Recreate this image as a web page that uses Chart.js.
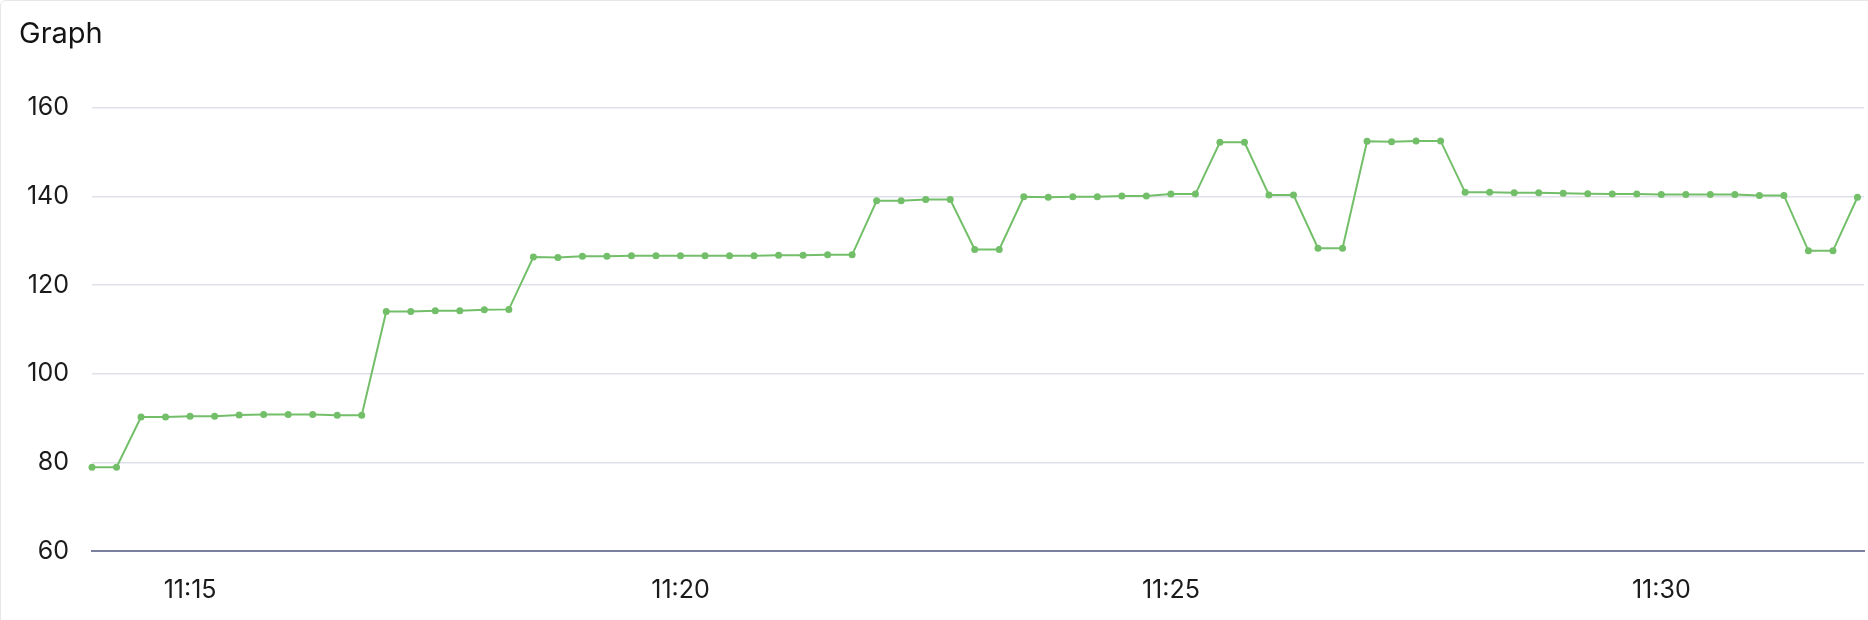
<!DOCTYPE html>
<html>
<head>
<meta charset="utf-8">
<script src="https://cdn.jsdelivr.net/npm/chart.js@4.4.1/dist/chart.umd.min.js"></script>
<style>
    html, body { margin: 0; padding: 0; background: #fff; overflow: hidden; }
    .card {
        position: absolute; left: 0; top: 0; width: 1900px; height: 700px;
        border: 1px solid #e6e7eb; border-radius: 6px; box-sizing: border-box;
    }
    .title {
        position: absolute; left: 19px; top: 18px; z-index: 2;
        font-family: Inter, sans-serif; font-size: 29px; line-height: 29px; color: #141414;
    }
    .wrap { position: absolute; left: 0; top: 0; width: 1868px; height: 620px; }
</style>
</head>
<body>
<div class="card"></div>
<div class="title">Graph</div>
<div class="wrap"><canvas id="graphChart"></canvas></div>
<script>
// sample times (hh:mm:ss)
const times = [
    '11:14:00', '11:14:15', '11:14:30', '11:14:45', '11:15:00', '11:15:15', '11:15:30', '11:15:45',
    '11:16:00', '11:16:15', '11:16:30', '11:16:45', '11:17:00', '11:17:15', '11:17:30', '11:17:45',
    '11:18:00', '11:18:15', '11:18:30', '11:18:45', '11:19:00', '11:19:15', '11:19:30', '11:19:45',
    '11:20:00', '11:20:15', '11:20:30', '11:20:45', '11:21:00', '11:21:15', '11:21:30', '11:21:45',
    '11:22:00', '11:22:15', '11:22:30', '11:22:45', '11:23:00', '11:23:15', '11:23:30', '11:23:45',
    '11:24:00', '11:24:15', '11:24:30', '11:24:45', '11:25:00', '11:25:15', '11:25:30', '11:25:45',
    '11:26:00', '11:26:15', '11:26:30', '11:26:45', '11:27:00', '11:27:15', '11:27:30', '11:27:45',
    '11:28:00', '11:28:15', '11:28:30', '11:28:45', '11:29:00', '11:29:15', '11:29:30', '11:29:45',
    '11:30:00', '11:30:15', '11:30:30', '11:30:45', '11:31:00', '11:31:15', '11:31:30', '11:31:45',
    '11:32:00'
];

const values = [
    78.9, 78.9, 90.2, 90.2, 90.4, 90.4, 90.7, 90.8, 90.8, 90.8, 90.6, 90.6,
    114.0, 114.0, 114.2, 114.2, 114.4, 114.5,
    126.3, 126.2, 126.5, 126.5, 126.6, 126.6, 126.6, 126.6, 126.6, 126.6, 126.7, 126.7, 126.8, 126.8,
    139.0, 139.0, 139.3, 139.3, 128.0, 128.0,
    139.9, 139.8, 139.9, 139.9, 140.1, 140.1, 140.5, 140.5, 152.2, 152.2, 140.3, 140.3,
    128.3, 128.3, 152.4, 152.3, 152.5, 152.5,
    140.9, 140.9, 140.8, 140.8, 140.7, 140.6, 140.5, 140.5, 140.4, 140.4, 140.4, 140.4,
    140.2, 140.2, 127.7, 127.7, 139.8
];

const xStart = '11:14:00';
const xEnd = '11:32:04';
const yTicks = [60, 80, 100, 120, 140, 160];

function toSeconds(t) {
    const p = t.split(':').map(Number);
    return p[0] * 3600 + p[1] * 60 + p[2];
}

function toLabel(sec) {
    const h = Math.floor(sec / 3600);
    const m = Math.floor((sec % 3600) / 60);
    return `${h}:${String(m).padStart(2, '0')}`;
}

const points = times.map((t, i) => ({ x: toSeconds(t), y: values[i] }));
const green = '#73bf69';

new Chart(document.getElementById('graphChart').getContext('2d'), {
    type: 'line',
    data: {
        datasets: [{
            label: 'Graph',
            data: points,
            borderColor: green,
            backgroundColor: green,
            borderWidth: 2,
            pointRadius: 3.5,
            pointBorderWidth: 0,
            pointBackgroundColor: green,
            tension: 0,
            clip: false,  // keep the first dot whole at the left edge
        }],
    },
    options: {
        responsive: true,
        maintainAspectRatio: false,
        devicePixelRatio: 1,
        animation: false,
        layout: { padding: { top: 85.5, left: 0, right: 0, bottom: 0 } },
        plugins: {
            legend: { display: false },
            tooltip: { enabled: false },
        },
        scales: {
            x: {
                type: 'linear',
                min: toSeconds(xStart),
                max: toSeconds(xEnd),
                grid: { display: false, drawTicks: false },
                border: { display: true, color: '#7b809e', width: 2 },
                ticks: {
                    stepSize: 300,
                    includeBounds: false,
                    padding: 24,
                    maxRotation: 0,
                    color: '#1b1b1b',
                    font: { family: 'Inter', size: 25 },
                    callback: (v) => toLabel(v),
                },
                afterFit: (axis) => { axis.height = 69; },
            },
            y: {
                min: yTicks[0],
                max: 165,
                grid: { color: '#dfe1ea', lineWidth: 1.5, drawTicks: false },
                border: { display: false },
                ticks: {
                    stepSize: 20,
                    includeBounds: false,
                    padding: 23,
                    color: '#1b1b1b',
                    font: { family: 'Inter', size: 25 },
                },
                afterFit: (axis) => { axis.width = 92; },
            },
        },
    },
});
</script>
</body>
</html>
